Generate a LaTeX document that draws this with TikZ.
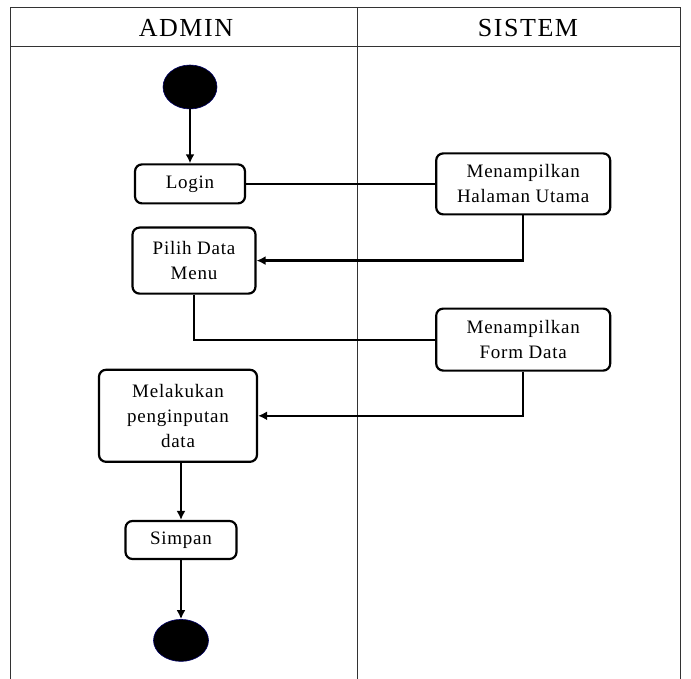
\documentclass[tikz,border=0pt]{standalone}
\usepackage{fontspec}
\setmainfont{Liberation Serif}
\usetikzlibrary{positioning,shapes.geometric,arrows.meta}

\begin{document}
\begin{tikzpicture}[
        x=1pt, y=-1pt,
        lane/.style={draw=black!80, line width=1pt},
        head/.style={font=\fontsize{26}{28}\selectfont\addfontfeature{LetterSpace=6}},
        act/.style={draw, rounded corners=7pt, line width=2.2pt, align=center, inner sep=2pt,
          font=\fontsize{19}{25}\selectfont\addfontfeature{LetterSpace=4}},
        dot/.style={ellipse, fill=black, draw=blue!40!black, line width=0.6pt, inner sep=0pt,
          minimum width=54pt, minimum height=44pt},
        every path/.style={line width=2.2pt},
        flow/.style={-{Latex[length=9pt,width=9pt]}}
      ]
      \useasboundingbox (0,0) rectangle (691,679);

      % Swimlanes
      \draw[lane] (10,679) -- (10,8) -- (680,8) -- (680,679);
      \draw[lane] (10,47) -- (680,47);
      \draw[lane] (357,8) -- (357,679);
      \node[head] (admin) at (186,28) {ADMIN};
      \node[head] (sistem) at (528,28) {SISTEM};

      % Nodes
      \node[dot] (start) at (190,87) {};
      \node[act, minimum width=110pt, minimum height=39pt, below=54pt of start] (login) {Login};
      \node[act, minimum width=174pt, minimum height=61pt, right=189pt of login] (halaman) {Menampilkan\\Halaman Utama};
      \node[act, minimum width=123pt, minimum height=66pt, below=22pt of login, xshift=4pt] (pilih) {Pilih Data\\Menu};
      \node[act, minimum width=174pt, minimum height=62pt, below=92pt of halaman] (form) {Menampilkan\\Form Data};
      \node[act, minimum width=158pt, minimum height=92pt, below=74pt of pilih, xshift=-16pt] (input) {Melakukan\\penginputan\\data};
      \node[act, minimum width=111pt, minimum height=38pt, below=57pt of input, xshift=3pt] (simpan) {Simpan};
      \node[dot, minimum width=55pt, minimum height=42pt, below=59pt of simpan] (end) {};

      % Edges
      \draw[flow] (start) -- (login);
      \draw (login) -- (halaman);
      \draw[flow] (halaman.south) |- (pilih.east);
      \draw (pilih.south) |- (form.west);
      \draw[flow] (form.south) |- (input.east);
      \draw[flow] (input.south -| simpan.north) -- (simpan.north);
      \draw[flow] (simpan.south) -- (end.north);

    \end{tikzpicture}
\end{document}
